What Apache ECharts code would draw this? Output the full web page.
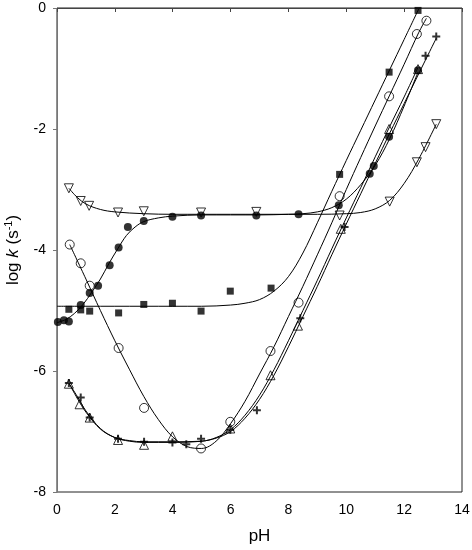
<!DOCTYPE html>
<html><head><meta charset="utf-8">
<script src="https://cdn.jsdelivr.net/npm/echarts@6/dist/echarts.min.js"></script>
<style>html,body{margin:0;padding:0;background:#fff}#c{width:472px;height:550px}</style>
</head><body><div id="c"></div>
<script>
// ---- axis ticks ----
const xTicks = [0, 2, 4, 6, 8, 10, 12, 14];
const yTicks = [0, -2, -4, -6, -8];

// ---- measured points [pH, log k] ----
const filledCirclePts = [[0.03,-5.19],[0.24,-5.16],[0.41,-5.18],[0.82,-4.91],[1.13,-4.71],[1.42,-4.59],[1.82,-4.25],[2.13,-3.96],[2.45,-3.62],[3.0,-3.52],[3.99,-3.45],[4.98,-3.43],[6.89,-3.43],[8.35,-3.41],[9.74,-3.26],[10.81,-2.74],[10.95,-2.61],[11.48,-2.13],[12.48,-1.03]];
const squarePts = [[0.41,-4.98],[0.82,-4.99],[1.13,-5.01],[2.13,-5.04],[3.0,-4.90],[3.99,-4.88],[4.98,-5.01],[5.99,-4.68],[7.4,-4.63],[9.77,-2.75],[11.48,-1.06],[12.48,-0.04]];
const openCirclePts = [[0.44,-3.91],[0.82,-4.22],[1.13,-4.59],[2.13,-5.62],[3.01,-6.61],[4.98,-7.28],[5.99,-6.84],[7.38,-5.67],[8.35,-4.87],[9.77,-3.11],[11.48,-1.46],[12.44,-0.43],[12.77,-0.21]];
const downTriPts = [[0.41,-2.98],[0.82,-3.19],[1.11,-3.27],[2.11,-3.38],[3.0,-3.36],[4.98,-3.38],[6.89,-3.37],[9.77,-3.43],[11.5,-3.20],[12.44,-2.55],[12.74,-2.30],[13.11,-1.92]];
const upTriPts = [[0.41,-6.21],[0.78,-6.55],[1.13,-6.77],[2.11,-7.14],[3.01,-7.22],[3.99,-7.08],[5.99,-6.95],[7.38,-6.07],[8.33,-5.25],[9.81,-3.65],[11.48,-2.0],[12.48,-1.01]];
const plusPts = [[0.41,-6.2],[0.82,-6.44],[1.13,-6.77],[2.11,-7.12],[3.01,-7.17],[3.99,-7.18],[4.47,-7.21],[4.98,-7.12],[5.99,-6.97],[6.91,-6.65],[8.41,-5.13],[9.94,-3.62],[12.74,-0.79],[13.11,-0.47]];

// ---- fitted curves [pH, log k] ----
const filledCircleCurve = [[0,-5.2],[0.3,-5.15],[0.6,-5.05],[0.9,-4.9],[1.2,-4.7],[1.5,-4.48],[1.8,-4.22],[2.1,-3.98],[2.4,-3.76],[2.7,-3.62],[3.0,-3.53],[3.5,-3.47],[4.0,-3.44],[5,-3.42],[6,-3.42],[7,-3.42],[8,-3.41],[8.5,-3.4],[9.0,-3.37],[9.5,-3.3],[10.0,-3.16],[10.5,-2.92],[11.0,-2.6],[11.5,-2.16],[12.0,-1.62],[12.48,-1.06]];
const squareCurve = [[0,-4.93],[1,-4.93],[2,-4.93],[3,-4.93],[4,-4.93],[5,-4.93],[6,-4.91],[6.5,-4.88],[7.0,-4.82],[7.5,-4.68],[8.0,-4.44],[8.5,-4.05],[9.0,-3.55],[9.5,-3.03],[10.0,-2.52],[10.5,-2.02],[11.0,-1.52],[11.5,-1.02],[12.0,-0.52],[12.5,-0.02]];
const openCircleCurve = [[0.44,-3.91],[1.0,-4.48],[1.5,-5.0],[2.0,-5.5],[2.5,-5.97],[3.0,-6.42],[3.5,-6.8],[4.0,-7.09],[4.5,-7.25],[5.0,-7.28],[5.5,-7.16],[6.0,-6.87],[6.5,-6.5],[7.0,-6.05],[7.5,-5.6],[8.0,-5.1],[8.5,-4.6],[9.0,-4.08],[9.5,-3.55],[10.0,-3.0],[10.5,-2.47],[11.0,-1.95],[11.5,-1.44],[12.0,-0.93],[12.5,-0.41],[12.77,-0.17]];
const downTriCurve = [[0.41,-2.98],[0.7,-3.13],[1.0,-3.24],[1.5,-3.33],[2.0,-3.37],[3.0,-3.4],[4,-3.41],[5,-3.41],[6,-3.41],[7,-3.41],[8,-3.41],[9,-3.41],[10,-3.4],[10.5,-3.38],[11.0,-3.32],[11.5,-3.18],[12.0,-2.9],[12.5,-2.5],[13.11,-1.92]];
const upTriCurve = [[0.41,-6.2],[0.7,-6.45],[1.0,-6.68],[1.5,-6.96],[2.0,-7.1],[2.5,-7.15],[3,-7.17],[4,-7.17],[5,-7.16],[5.5,-7.1],[6.0,-6.97],[6.5,-6.73],[7.0,-6.4],[7.5,-5.98],[8.0,-5.5],[8.5,-5.0],[9.0,-4.5],[9.5,-3.98],[10,-3.47],[10.5,-2.97],[11,-2.46],[11.5,-1.96],[12,-1.47],[12.48,-0.98]];
const plusCurve = [[0.41,-6.2],[0.7,-6.42],[1.0,-6.66],[1.5,-6.95],[2.0,-7.1],[2.5,-7.16],[3,-7.18],[4,-7.18],[5,-7.16],[5.5,-7.11],[6,-7.0],[6.5,-6.78],[7,-6.47],[7.5,-6.07],[8,-5.6],[8.5,-5.1],[9,-4.6],[9.5,-4.08],[10,-3.57],[10.5,-3.07],[11,-2.57],[11.5,-2.07],[12,-1.58],[12.5,-1.09],[13.11,-0.5]];

const FONT = '"Liberation Sans", Arial, sans-serif';
const chart = echarts.init(document.getElementById('c'), null, {renderer: 'canvas'});

function curve(data) {
  return { type: 'line', data: data, showSymbol: false, smooth: 0.35,
    lineStyle: { color: '#000', width: 1 }, z: 2, silent: true, animation: false };
}
function pts(data, symbol, size, filled, rotate) {
  return { type: 'scatter', data: data, symbol: symbol, symbolSize: size, symbolRotate: rotate || 0,
    itemStyle: filled ? { color: '#000' } : { color: 'rgba(255,255,255,0)', borderColor: '#000', borderWidth: 1 },
    z: 3, animation: false };
}
const PLUS = 'path://M3,0H5V3H8V5H5V8H3V5H0V3H3Z';

chart.setOption({
  animation: false,
  backgroundColor: '#fff',
  grid: { left: 57, right: 10, top: 8, bottom: 58, show: true, borderColor: '#222', borderWidth: 1,
          containLabel: false, outerBoundsMode: 'none' },
  xAxis: {
    type: 'value', min: 0, max: 14, interval: 2,
    name: 'pH', nameLocation: 'middle', nameGap: 36,
    nameTextStyle: { fontFamily: FONT, fontSize: 17, color: '#000' },
    axisLine: { show: true, lineStyle: { color: '#444', width: 1 } },
    axisTick: { show: true, length: 4, inside: false, lineStyle: { color: '#444' } },
    axisLabel: { fontFamily: FONT, fontSize: 14, color: '#000', margin: 11,
      formatter: v => xTicks.includes(v) ? String(v) : '' },
    splitLine: { show: false }
  },
  yAxis: {
    type: 'value', min: -8, max: 0, interval: 2,
    name: '{a|log }{i|k}{a| (s}{s|-1}{a|)}', nameLocation: 'middle', nameGap: 34, nameRotate: 90,
    nameTextStyle: { fontFamily: FONT, fontSize: 17, color: '#000',
      rich: {
        a: { fontFamily: FONT, fontSize: 17, color: '#000', lineHeight: 20 },
        i: { fontFamily: FONT, fontSize: 17, color: '#000', fontStyle: 'italic', lineHeight: 20 },
        s: { fontFamily: FONT, fontSize: 11, color: '#000', lineHeight: 10, verticalAlign: 'top' }
      } },
    axisLine: { show: true, lineStyle: { color: '#777', width: 1 } },
    axisTick: { show: true, length: 4, inside: false, lineStyle: { color: '#777' } },
    axisLabel: { fontFamily: FONT, fontSize: 14, color: '#000', margin: 11,
      formatter: v => yTicks.includes(v) ? String(v) : '' },
    splitLine: { show: false }
  },
  series: [
    curve(filledCircleCurve), curve(squareCurve), curve(openCircleCurve),
    curve(downTriCurve), curve(upTriCurve), curve(plusCurve),
    pts(downTriPts, 'triangle', 9, false, 180),
    pts(upTriPts, 'triangle', 9, false),
    pts(openCirclePts, 'circle', 9, false),
    pts(squarePts, 'rect', 7, true),
    pts(filledCirclePts, 'circle', 8, true),
    pts(plusPts, PLUS, 8, true)
  ]
});
</script></body></html>
